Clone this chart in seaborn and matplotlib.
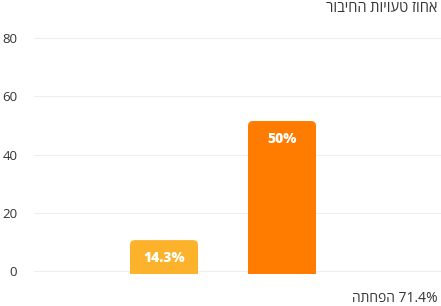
import matplotlib
matplotlib.use("Agg")
import matplotlib.pyplot as plt
import seaborn as sns
import pandas as pd
from matplotlib.patches import FancyBboxPatch

categories = ["a", "b", "c"]
values = [10.6, 51.5, 0.0]
labels = ["14.3%", "50%", ""]
colors = ["#FDB22B", "#FF7C00", "#FF7C00"]
yticks = [0, 20, 40, 60, 80]
# text stored so that the renderer's right-to-left reordering shows it as in the reference
title_text = "רוביחה תויועט זוחא"
footer_text = "התחפה 71.4%"

sns.set_theme(style="white")
plt.rcParams['font.family'] = ['Open Sans', 'DejaVu Sans']

fig = plt.figure(figsize=(4.41, 3.06), dpi=100)
px_per_unit = 233 / 80.0
y0_px = 271
ylo, yhi = -0.9, 85
bottom_px = y0_px - ylo * px_per_unit
top_px = y0_px - yhi * px_per_unit
ax = fig.add_axes([34 / 441, (306 - bottom_px) / 306, 407 / 441, (bottom_px - top_px) / 306])

df = pd.DataFrame({"cat": categories, "val": values})
sns.barplot(data=df, x="cat", y="val", hue="cat", palette=colors, legend=False,
            width=68 / 118, ax=ax, saturation=1)

ax.set_xlim((34 - 164) / 118, (441 - 164) / 118)
ax.set_ylim(ylo, yhi)

xr = 5 / 118
yr = 5 / px_per_unit
for p, lab in zip(list(ax.patches), labels):
    x, w, h = p.get_x(), p.get_width(), p.get_height()
    fc = p.get_facecolor()
    p.set_visible(False)
    if h <= 0:
        continue
    fb = FancyBboxPatch((x, -3), w, h + 3,
                        boxstyle=f"round,pad=0,rounding_size={xr}",
                        mutation_aspect=yr / xr, facecolor=fc, edgecolor="none", zorder=3)
    ax.add_patch(fb)
    ax.text(x + w / 2, h - 18 / px_per_unit, lab, ha="center", va="center",
            color="white", fontsize=10, fontweight="heavy", zorder=4)

ax.set_yticks(yticks)
ax.set_yticklabels([str(t) for t in yticks])
ax.set_xticks([])
ax.grid(axis="y", color="#eeeeee", linewidth=0.8)
ax.set_axisbelow(True)
for s in ax.spines.values():
    s.set_visible(False)
ax.tick_params(axis="y", length=0, pad=12, labelsize=9.5, labelcolor="#333333")
ax.set_xlabel("")
ax.set_ylabel("")

fig.text(437 / 441, 1 - 8 / 306, title_text, ha="right", va="center",
         fontsize=10.5, color="#333333")
fig.text(438 / 441, 1 - 298 / 306, footer_text, ha="right", va="center",
         fontsize=10, color="#333333")

fig.savefig("out.png", dpi=100)
